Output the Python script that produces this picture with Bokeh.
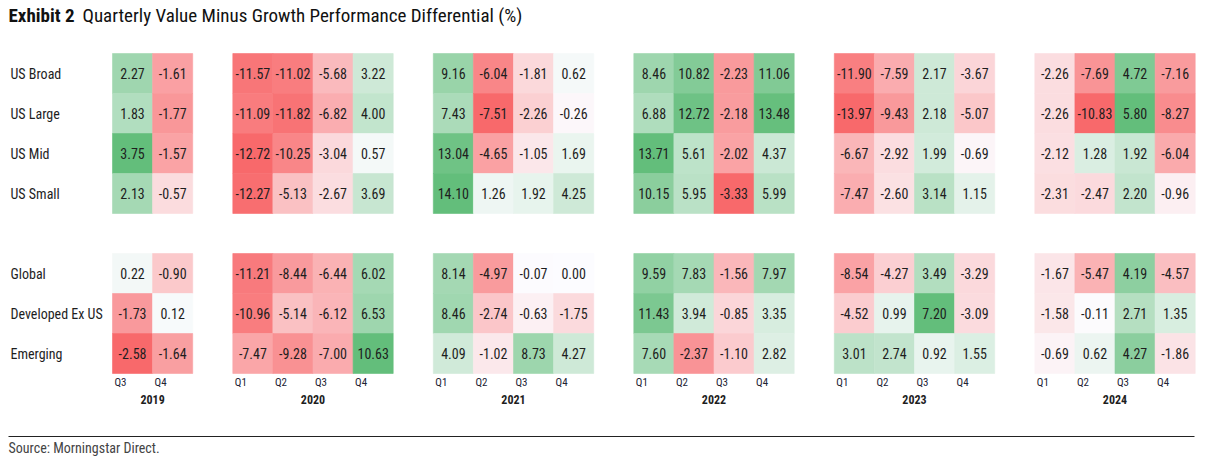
from bokeh.plotting import figure
from bokeh.models import ColumnDataSource, Range1d
from bokeh.core.properties import value
from bokeh.embed import file_html
from bokeh.resources import INLINE

# ---------------- data ----------------
title_bold = "Exhibit 2"
title_rest = "Quarterly Value Minus Growth Performance Differential (%)"
source_note = "Source: Morningstar Direct."

rows_us = ["US Broad", "US Large", "US Mid", "US Small"]
rows_global = ["Global", "Developed Ex US", "Emerging"]

years = ["2019", "2020", "2021", "2022", "2023", "2024"]
quarters_2019 = ["Q3", "Q4"]
quarters_full = ["Q1", "Q2", "Q3", "Q4"]

# rows: US Broad, US Large, US Mid, US Small, Global, Developed Ex US, Emerging
v2019 = [[2.27, -1.61], [1.83, -1.77], [3.75, -1.57], [2.13, -0.57],
         [0.22, -0.90], [-1.73, 0.12], [-2.58, -1.64]]
v2020 = [[-11.57, -11.02, -5.68, 3.22], [-11.09, -11.82, -6.82, 4.00],
         [-12.72, -10.25, -3.04, 0.57], [-12.27, -5.13, -2.67, 3.69],
         [-11.21, -8.44, -6.44, 6.02], [-10.96, -5.14, -6.12, 6.53],
         [-7.47, -9.28, -7.00, 10.63]]
v2021 = [[9.16, -6.04, -1.81, 0.62], [7.43, -7.51, -2.26, -0.26],
         [13.04, -4.65, -1.05, 1.69], [14.10, 1.26, 1.92, 4.25],
         [8.14, -4.97, -0.07, 0.00], [8.46, -2.74, -0.63, -1.75],
         [4.09, -1.02, 8.73, 4.27]]
v2022 = [[8.46, 10.82, -2.23, 11.06], [6.88, 12.72, -2.18, 13.48],
         [13.71, 5.61, -2.02, 4.37], [10.15, 5.95, -3.33, 5.99],
         [9.59, 7.83, -1.56, 7.97], [11.43, 3.94, -0.85, 3.35],
         [7.60, -2.37, -1.10, 2.82]]
v2023 = [[-11.90, -7.59, 2.17, -3.67], [-13.97, -9.43, 2.18, -5.07],
         [-6.67, -2.92, 1.99, -0.69], [-7.47, -2.60, 3.14, 1.15],
         [-8.54, -4.27, 3.49, -3.29], [-4.52, 0.99, 7.20, -3.09],
         [3.01, 2.74, 0.92, 1.55]]
v2024 = [[-2.26, -7.69, 4.72, -7.16], [-2.26, -10.83, 5.80, -8.27],
         [-2.12, 1.28, 1.92, -6.04], [-2.31, -2.47, 2.20, -0.96],
         [-1.67, -5.47, 4.19, -4.57], [-1.58, -0.11, 2.71, 1.35],
         [-0.69, 0.62, 4.27, -1.86]]

year_values = {"2019": v2019, "2020": v2020, "2021": v2021,
               "2022": v2022, "2023": v2023, "2024": v2024}
year_quarters = {y: (quarters_2019 if y == "2019" else quarters_full) for y in years}

# ---------------- styling / layout ----------------
FONT = "'Liberation Sans Narrow', 'Arial Narrow', 'Roboto Condensed', 'DejaVu Sans Condensed', 'Liberation Sans', sans-serif"
TXT = "#1e1e1e"
RED = (248, 105, 107)
MID = (252, 252, 255)
GREEN = (99, 190, 123)

W, H = 1211, 460
UX, UY = 40.1, 40.0          # pixels per column / row
LEFT_PX, TOP_PX = 112, 53    # first cell's left / top edge in page pixels


def px_x(px):
    return (px - LEFT_PX) / UX


def px_y(px):
    return (px - TOP_PX) / UY


def blend(c1, c2, t):
    return "#%02x%02x%02x" % tuple(int(round(a + (b - a) * t)) for a, b in zip(c1, c2))


def color_for(v, vmin, vmax):
    if v >= 0:
        t = v / vmax if vmax > 0 else 0
        return blend(MID, GREEN, t)
    t = v / vmin if vmin < 0 else 0
    return blend(MID, RED, t)


row_names = rows_us + rows_global
row_index = list(range(len(rows_us))) + [len(rows_us) + 1 + i for i in range(len(rows_global))]

cells = dict(left=[], right=[], top=[], bottom=[], color=[], label=[], xc=[], yc=[])
qlab = dict(x=[], y=[], text=[])
ylab = dict(x=[], y=[], text=[])

col = 0
for yr in years:
    vals = year_values[yr]
    qs = year_quarters[yr]
    flat = [v for r in vals for v in r]
    vmin, vmax = min(flat), max(flat)
    for qi, q in enumerate(qs):
        c = col + qi
        for ri, r in enumerate(row_index):
            v = vals[ri][qi]
            cells["left"].append(c)
            cells["right"].append(c + 1)
            cells["top"].append(r)
            cells["bottom"].append(r + 1)
            cells["color"].append(color_for(v, vmin, vmax))
            cells["label"].append("%.2f" % v)
            cells["xc"].append(c + 0.5)
            cells["yc"].append(r + 0.5)
        qlab["x"].append(c)
        qlab["y"].append(row_index[-1] + 1)
        qlab["text"].append(q)
    ylab["x"].append(col + len(qs) / 2)
    ylab["y"].append(row_index[-1] + 1)
    ylab["text"].append(yr)
    col += len(qs) + 1

p = figure(width=W, height=H, output_backend="svg", toolbar_location=None,
           x_range=Range1d(px_x(0), px_x(W)), y_range=Range1d(px_y(H), px_y(0)),
           min_border=0, outline_line_color=None)
p.axis.visible = False
p.grid.visible = False
p.background_fill_color = "white"
p.border_fill_color = "white"

src = ColumnDataSource(cells)
p.quad(left="left", right="right", top="top", bottom="bottom", source=src,
       fill_color="color", line_color="color", line_width=0.6)
p.text(x="xc", y="yc", text="label", source=src, text_align="center",
       text_baseline="middle", text_font=value(FONT), text_font_size="14px",
       text_color=TXT)

# row labels
p.text(x=[px_x(10)] * len(row_names), y=[r + 0.5 for r in row_index], text=row_names,
       text_align="left", text_baseline="middle", text_font=value(FONT),
       text_font_size="14px", text_color=TXT)

# quarter labels
p.text(x="x", y="y", text="text", source=ColumnDataSource(qlab), x_offset=2, y_offset=9,
       text_align="left", text_baseline="middle", text_font=value(FONT),
       text_font_size="11px", text_color="#222233")
# year labels
p.text(x="x", y="y", text="text", source=ColumnDataSource(ylab), y_offset=26,
       text_align="center", text_baseline="middle", text_font=value(FONT),
       text_font_size="12px", text_font_style="bold", text_color=TXT)

# title
p.text(x=[px_x(8)], y=[px_y(15)], text=[title_bold], text_align="left",
       text_baseline="middle", text_font=value(FONT), text_font_size="19px",
       text_font_style="bold", text_color="#111111")
p.text(x=[px_x(82)], y=[px_y(15)], text=[title_rest], text_align="left",
       text_baseline="middle", text_font=value(FONT), text_font_size="19px",
       text_color="#111111")

# source rule and note
p.segment(x0=[px_x(8)], x1=[px_x(1194)], y0=[px_y(436)], y1=[px_y(436)],
          line_color="#222222", line_width=1)
p.text(x=[px_x(8)], y=[px_y(447)], text=[source_note], text_align="left",
       text_baseline="middle", text_font=value(FONT), text_font_size="14px",
       text_color="#444444")

open("out.html", "w").write(file_html(p, INLINE))
